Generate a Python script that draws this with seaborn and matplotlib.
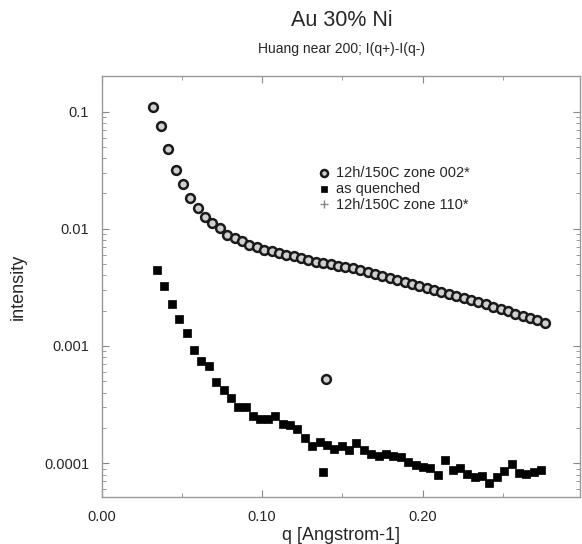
import matplotlib
matplotlib.use("Agg")
import matplotlib.pyplot as plt
import matplotlib.ticker as mticker
import seaborn as sns

# 12h/150C zone 002*
q_aged = [0.0323, 0.0369, 0.0415, 0.0461, 0.0507, 0.0553, 0.0599, 0.0645, 0.0691, 0.0737,
          0.0783, 0.0829, 0.0875, 0.0921, 0.0967, 0.1013, 0.1059, 0.1105, 0.1151, 0.1197,
          0.1243, 0.1289, 0.1335, 0.1381, 0.1427, 0.1473, 0.1519, 0.1565, 0.1611, 0.1657,
          0.1703, 0.1749, 0.1795, 0.1841, 0.1887, 0.1933, 0.1979, 0.2025, 0.2071, 0.2117,
          0.2163, 0.2209, 0.2255, 0.2301, 0.2347, 0.2393, 0.2439, 0.2485, 0.2531, 0.2577,
          0.2623, 0.2669, 0.2715, 0.2761, 0.1396]
i_aged = [0.1087, 0.0752, 0.0475, 0.0319, 0.0239, 0.0184, 0.0149, 0.01265, 0.01124, 0.01013,
          0.0089, 0.00838, 0.0078, 0.00726, 0.00694, 0.00662, 0.00641, 0.00616, 0.0060, 0.00585,
          0.00562, 0.0054, 0.00523, 0.00507, 0.00497, 0.00485, 0.00475, 0.00462, 0.00445, 0.00428,
          0.00412, 0.00396, 0.00381, 0.00366, 0.00353, 0.0034, 0.00327, 0.00314, 0.00301, 0.0029,
          0.00278, 0.00267, 0.00257, 0.00247, 0.00237, 0.00227, 0.00217, 0.00207, 0.00198, 0.00189,
          0.00181, 0.00173, 0.00165, 0.00158, 0.00052]

# as quenched
q_quench = [0.0346, 0.0392, 0.0438, 0.0484, 0.0530, 0.0576, 0.0622, 0.0668, 0.0714, 0.0760,
            0.0806, 0.0852, 0.0898, 0.0944, 0.0990, 0.1036, 0.1082, 0.1128, 0.1174, 0.1220,
            0.1266, 0.1312, 0.1358, 0.1404, 0.1450, 0.1496, 0.1542, 0.1588, 0.1634, 0.1680,
            0.1726, 0.1772, 0.1818, 0.1864, 0.1910, 0.1956, 0.2002, 0.2048, 0.2094, 0.2140,
            0.2186, 0.2232, 0.2278, 0.2324, 0.2370, 0.2416, 0.2462, 0.2508, 0.2554, 0.2600,
            0.2646, 0.2692, 0.2738, 0.1380]
i_quench = [0.00442, 0.00322, 0.00228, 0.00169, 0.0013, 0.000923, 0.000748, 0.00067, 0.000492, 0.000423,
            0.000359, 0.000303, 0.000303, 0.000252, 0.000239, 0.000239, 0.000254, 0.000214, 0.00021, 0.000194,
            0.000164, 0.000141, 0.000153, 0.000144, 0.000131, 0.000141, 0.000129, 0.000148, 0.000129, 0.000119,
            0.000115, 0.00012, 0.000116, 0.000114, 0.000103, 9.6e-5, 9.2e-5, 9.1e-5, 7.9e-5, 0.000106,
            8.7e-5, 9.1e-5, 8.1e-5, 7.7e-5, 7.8e-5, 6.8e-5, 7.7e-5, 8.5e-5, 9.8e-5, 8.2e-5,
            8.1e-5, 8.4e-5, 8.7e-5, 8.4e-5]

# 12h/150C zone 110* (no points in range)
q_110 = []
i_110 = []

labels = ["12h/150C zone 002*", "as quenched", "12h/150C zone 110*"]

sns.set_style("ticks")
plt.rcParams["font.family"] = ["Liberation Sans", "DejaVu Sans"]

fig = plt.figure(figsize=(5.82, 5.44), dpi=100)
ax = fig.add_axes([0.1744, 0.0855, 0.8222, 0.7757])

sns.scatterplot(x=q_aged, y=i_aged, ax=ax, marker="o", s=40, color="#d0d0d0",
                edgecolor="#1a1a1a", linewidth=1.8, label=labels[0], zorder=3)
sns.scatterplot(x=q_quench, y=i_quench, ax=ax, marker="s", s=26, color="black",
                edgecolor="black", linewidth=0.5, label=labels[1], zorder=3)
ax.plot(q_110, i_110, linestyle="none", marker="+", color="#888888", markersize=8,
        label=labels[2])

ax.set_yscale("log")
ax.set_xlim(0, 0.298)
ax.set_ylim(5.1e-5, 0.203)

ax.xaxis.set_major_locator(mticker.FixedLocator([0.0, 0.1, 0.2]))
ax.xaxis.set_major_formatter(mticker.FixedFormatter(["0.00", "0.10", "0.20"]))
ax.xaxis.set_minor_locator(mticker.MultipleLocator(0.05))
ax.yaxis.set_major_locator(mticker.FixedLocator([1e-4, 1e-3, 1e-2, 1e-1]))
ax.yaxis.set_major_formatter(mticker.FixedFormatter(["0.0001", "0.001", "0.01", "0.1"]))
ax.yaxis.set_minor_locator(mticker.LogLocator(base=10, subs=range(2, 10)))
ax.yaxis.set_minor_formatter(mticker.NullFormatter())

ax.tick_params(which="both", direction="in", top=True, right=True, color="#888888",
               labelsize=10.5, pad=9)
ax.tick_params(which="major", length=5, width=0.8)
ax.tick_params(which="minor", length=3, width=0.6)
for sp in ax.spines.values():
    sp.set_color("#999999")
    sp.set_linewidth(1.0)

ax.set_xlabel("q [Angstrom-1]", fontsize=13, labelpad=2)
ax.set_ylabel("intensity", fontsize=13, labelpad=12)

leg = ax.legend(loc="upper left", bbox_to_anchor=(0.44, 0.80), frameon=False,
                fontsize=10.5, handlelength=0.9, handletextpad=0.35, labelspacing=0.15,
                markerscale=0.8, borderaxespad=0)

fig.text(0.587, 0.962, "Au 30% Ni", ha="center", va="center", fontsize=15.5)
fig.text(0.587, 0.910, "Huang near 200; I(q+)-I(q-)", ha="center", va="center", fontsize=10)

fig.savefig("out.png", dpi=100)
